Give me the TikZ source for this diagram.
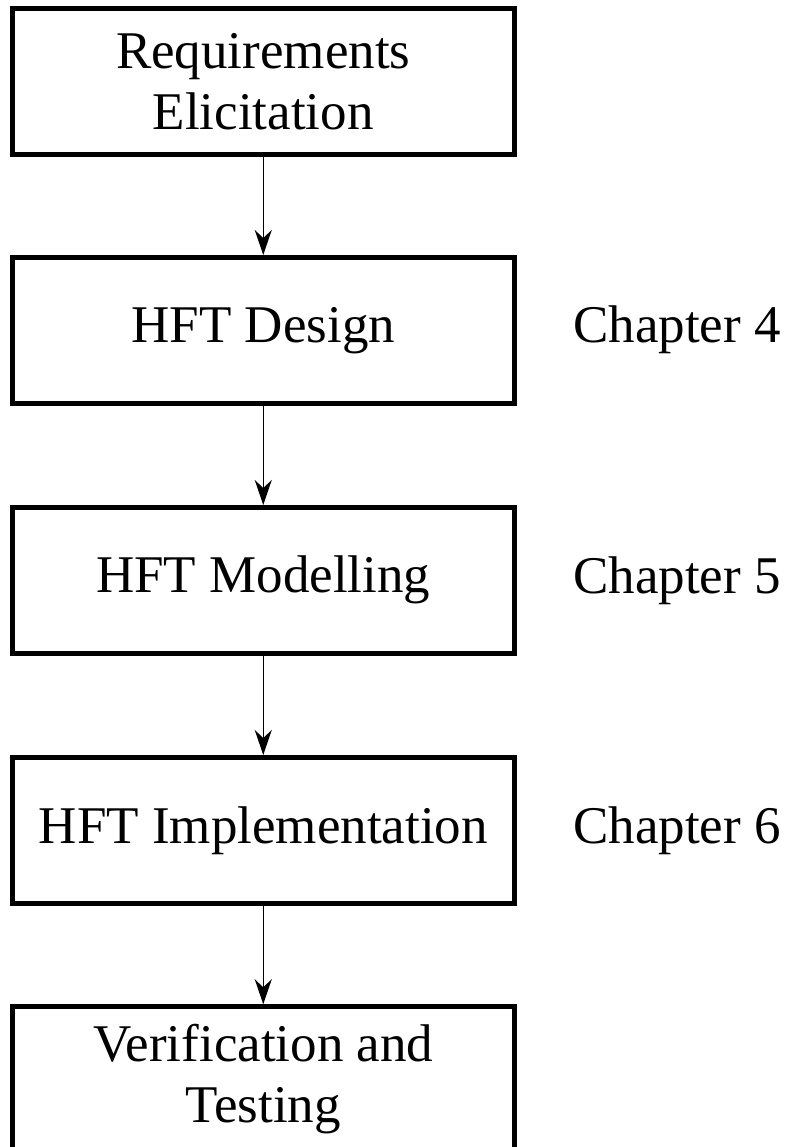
\documentclass[tikz,border=0pt]{standalone}
\usepackage{fontspec}
\setmainfont{Liberation Serif}
\usetikzlibrary{arrows.meta}
\begin{document}
\begin{tikzpicture}[x=1pt,y=-1pt,
  stagebox/.style={draw=black,line width=5pt,minimum width=501.5pt,minimum height=145.5pt,
    inner sep=0pt,align=center,font=\fontsize{53}{61}\selectfont},
  chap/.style={anchor=west,inner sep=0pt,font=\fontsize{53}{61}\selectfont},
  flow/.style={line width=1.5pt,-{Stealth[length=25pt,width=17pt,inset=8pt]}}]
\useasboundingbox (0,0) rectangle (787,1147);
\node[stagebox] (req) at (263.25,81.75) {Requirements\\Elicitation};
\node[stagebox] (des) at (263.25,330.25) {HFT Design};
\node[stagebox] (mod) at (263.25,580.25) {HFT Modelling};
\node[stagebox] (imp) at (263.25,830.25) {HFT Implementation};
\node[stagebox] (ver) at (263.25,1079.5) {Verification and\\Testing};
\node[chap] (c4) at (573,330.25) {Chapter 4};
\node[chap] (c5) at (573,580.25) {Chapter 5};
\node[chap] (c6) at (573,830.25) {Chapter 6};
\draw[flow] (req.south) -- (des.north);
\draw[flow] (des.south) -- (mod.north);
\draw[flow] (mod.south) -- (imp.north);
\draw[flow] (imp.south) -- (ver.north);
\end{tikzpicture}
\end{document}
